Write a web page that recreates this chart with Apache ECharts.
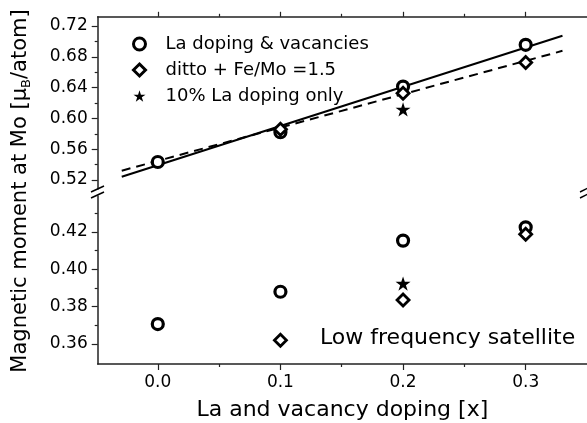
<!DOCTYPE html>
<html>
<head>
<meta charset="utf-8">
<script src="https://cdn.jsdelivr.net/npm/echarts@6/dist/echarts.min.js"></script>
<style>
html,body{margin:0;padding:0;background:#fff;}
#c{width:587px;height:423px;}
</style>
</head>
<body>
<div id="c"></div>
<script>
// ---- data ----
var seriesNames = ['La doping & vacancies', 'ditto + Fe/Mo =1.5', '10% La doping only'];
// upper panel (main peak)
var upCircleX = [0.0, 0.1, 0.2, 0.3];
var upCircleY = [0.5434, 0.582, 0.6413, 0.6956];
var upDiamondX = [0.1, 0.2, 0.3];
var upDiamondY = [0.586, 0.6326, 0.6726];
var upStarX = [0.2];
var upStarY = [0.6117];
// linear fits
var fitX = [-0.0294, 0.33];
var fitSolidY = [0.5243, 0.7073];
var fitDashY = [0.5321, 0.6878];
// lower panel (low frequency satellite)
var loCircleX = [0.0, 0.1, 0.2, 0.3];
var loCircleY = [0.3707, 0.388, 0.4154, 0.4225];
var loDiamondX = [0.1, 0.2, 0.3];
var loDiamondY = [0.362, 0.3836, 0.4188];
var loStarX = [0.2];
var loStarY = [0.3924];
// ticks
var xMajor = [0.0, 0.1, 0.2, 0.3];
var xMinor = [0.05, 0.15, 0.25];
var upYMajor = [0.52, 0.56, 0.60, 0.64, 0.68, 0.72];
var upYMinor = [0.54, 0.58, 0.62, 0.66, 0.70];
var loYMajor = [0.36, 0.38, 0.40, 0.42];
var loYMinor = [0.37, 0.39, 0.41, 0.43];

function pairs(xs, ys) { return xs.map(function (x, i) { return [x, ys[i]]; }); }

var FONT = 'DejaVu Sans';
var AX = '#222';
var STAR = 'path://M50,0 L61.2,34.5 L97.6,34.5 L68.2,55.9 L79.4,90.5 L50,69.1 L20.6,90.5 L31.8,55.9 L2.4,34.5 L38.8,34.5 Z';
var DIAMOND = 'path://M50,0 L100,50 L50,100 L0,50 Z';

var xMin = -0.049, xMax = 0.35;
var gridL = 97.7, gridR = -1.9;

function xAx(gridIndex, pos, vals, len, showLine, showLabel) {
  return {
    type: 'value', gridIndex: gridIndex, position: pos, min: xMin, max: xMax,
    axisLine: { show: showLine, onZero: false, lineStyle: { color: AX, width: 1.5 } },
    axisTick: { show: true, inside: false, length: len, customValues: vals, lineStyle: { color: AX, width: 1.2 } },
    axisLabel: showLabel ? { show: true, customValues: vals, margin: 10, fontFamily: FONT, fontSize: 17, color: '#000',
      formatter: function (v) { return v.toFixed(1); } } : { show: false },
    splitLine: { show: false }
  };
}
function yAx(gridIndex, min, max, vals, len, showLine, showLabel) {
  return {
    type: 'value', gridIndex: gridIndex, position: 'left', min: min, max: max,
    axisLine: { show: showLine, onZero: false, lineStyle: { color: AX, width: 1.5 } },
    axisTick: { show: true, inside: false, length: len, customValues: vals, lineStyle: { color: AX, width: 1.2 } },
    axisLabel: showLabel ? { show: true, customValues: vals, margin: 10, fontFamily: FONT, fontSize: 17, color: '#000',
      formatter: function (v) { return v.toFixed(2); } } : { show: false },
    splitLine: { show: false }
  };
}

var circleStyle = { color: '#fff', borderColor: '#000', borderWidth: 3.2, opacity: 1 };
var diamondStyle = { color: '#fff', borderColor: '#000', borderWidth: 2.8, opacity: 1 };
var starStyle = { color: '#000', borderWidth: 0, opacity: 1 };

var option = {
  animation: false,
  backgroundColor: '#fff',
  grid: [
    { left: gridL, right: gridR, top: 16.8, height: 172.2 },
    { left: gridL, right: gridR, top: 196, bottom: 423 - 364 }
  ],
  xAxis: [
    xAx(0, 'top', xMajor, 5, true, false),
    xAx(0, 'top', xMinor, 3, false, false),
    Object.assign(xAx(1, 'bottom', xMajor, 6, true, true), {
      name: 'La and vacancy doping [x]', nameLocation: 'middle', nameGap: 35,
      nameTextStyle: { fontFamily: FONT, fontSize: 22, color: '#000' }
    }),
    xAx(1, 'bottom', xMinor, 3, false, false)
  ],
  yAxis: [
    yAx(0, 0.5083, 0.732, upYMajor, 6, true, true),
    yAx(0, 0.5083, 0.732, upYMinor, 3, false, false),
    yAx(1, 0.3493, 0.4393, loYMajor, 6, true, true),
    yAx(1, 0.3493, 0.4393, loYMinor, 3, false, false)
  ],
  legend: {
    data: [
      { name: seriesNames[0], icon: 'circle' },
      { name: seriesNames[1], icon: DIAMOND },
      { name: seriesNames[2], icon: STAR, itemStyle: { color: '#000', borderWidth: 0 } }
    ],
    orient: 'vertical', left: 127, top: 30,
    itemWidth: 12, itemHeight: 12, itemGap: 8,
    symbolKeepAspect: true,
    itemStyle: { borderWidth: 3, borderColor: '#000', opacity: 1 },
    textStyle: { fontFamily: FONT, fontSize: 18, color: '#000', padding: [0, 0, 0, 15] },
    selectedMode: false
  },
  series: [
    { type: 'line', name: 'fit1', xAxisIndex: 0, yAxisIndex: 0, data: pairs(fitX, fitSolidY), symbol: 'none',
      lineStyle: { color: '#000', width: 2 }, silent: true, z: 1 },
    { type: 'line', name: 'fit2', xAxisIndex: 0, yAxisIndex: 0, data: pairs(fitX, fitDashY), symbol: 'none',
      lineStyle: { color: '#000', width: 2, type: [9, 6] }, silent: true, z: 1 },
    { type: 'scatter', name: seriesNames[0], xAxisIndex: 0, yAxisIndex: 0, data: pairs(upCircleX, upCircleY),
      symbol: 'circle', symbolSize: 11, itemStyle: circleStyle, z: 2 },
    { type: 'scatter', name: seriesNames[1], xAxisIndex: 0, yAxisIndex: 0, data: pairs(upDiamondX, upDiamondY),
      symbol: DIAMOND, symbolSize: 12, symbolKeepAspect: true, itemStyle: diamondStyle, z: 3 },
    { type: 'scatter', name: seriesNames[2], xAxisIndex: 0, yAxisIndex: 0, data: pairs(upStarX, upStarY),
      symbol: STAR, symbolSize: 15, symbolKeepAspect: true, itemStyle: starStyle, z: 4 },
    { type: 'scatter', name: seriesNames[0], xAxisIndex: 2, yAxisIndex: 2, data: pairs(loCircleX, loCircleY),
      symbol: 'circle', symbolSize: 11, itemStyle: circleStyle, z: 2 },
    { type: 'scatter', name: seriesNames[1], xAxisIndex: 2, yAxisIndex: 2, data: pairs(loDiamondX, loDiamondY),
      symbol: DIAMOND, symbolSize: 12, symbolKeepAspect: true, itemStyle: diamondStyle, z: 3 },
    { type: 'scatter', name: seriesNames[2], xAxisIndex: 2, yAxisIndex: 2, data: pairs(loStarX, loStarY),
      symbol: STAR, symbolSize: 15, symbolKeepAspect: true, itemStyle: starStyle, z: 4 }
  ],
  graphic: [
    { type: 'text', x: 21, y: 191, rotation: Math.PI / 2, z: 10,
      style: { text: 'Magnetic moment at Mo [\u03bc{s|B}/atom]', fontFamily: FONT, fontSize: 21, fill: '#000',
        align: 'center', verticalAlign: 'middle',
        rich: { s: { fontFamily: FONT, fontSize: 13, fill: '#000', padding: [12, 0, 0, 0] } } } },
    { type: 'text', x: 320, y: 338.5, z: 10,
      style: { text: 'Low frequency satellite', fontFamily: FONT, fontSize: 22, fill: '#000', verticalAlign: 'middle' } },
    // axis break marks
    { type: 'line', z: 10, shape: { x1: 91, y1: 192, x2: 104, y2: 186 }, style: { stroke: '#000', lineWidth: 1.5 } },
    { type: 'line', z: 10, shape: { x1: 91, y1: 198, x2: 104, y2: 192 }, style: { stroke: '#000', lineWidth: 1.5 } },
    { type: 'line', z: 10, shape: { x1: 580, y1: 192, x2: 590, y2: 187 }, style: { stroke: '#000', lineWidth: 1.5 } },
    { type: 'line', z: 10, shape: { x1: 580, y1: 198, x2: 590, y2: 193 }, style: { stroke: '#000', lineWidth: 1.5 } }
  ]
};

var chart = echarts.init(document.getElementById('c'), null, { renderer: 'canvas' });
chart.setOption(option);
</script>
</body>
</html>
